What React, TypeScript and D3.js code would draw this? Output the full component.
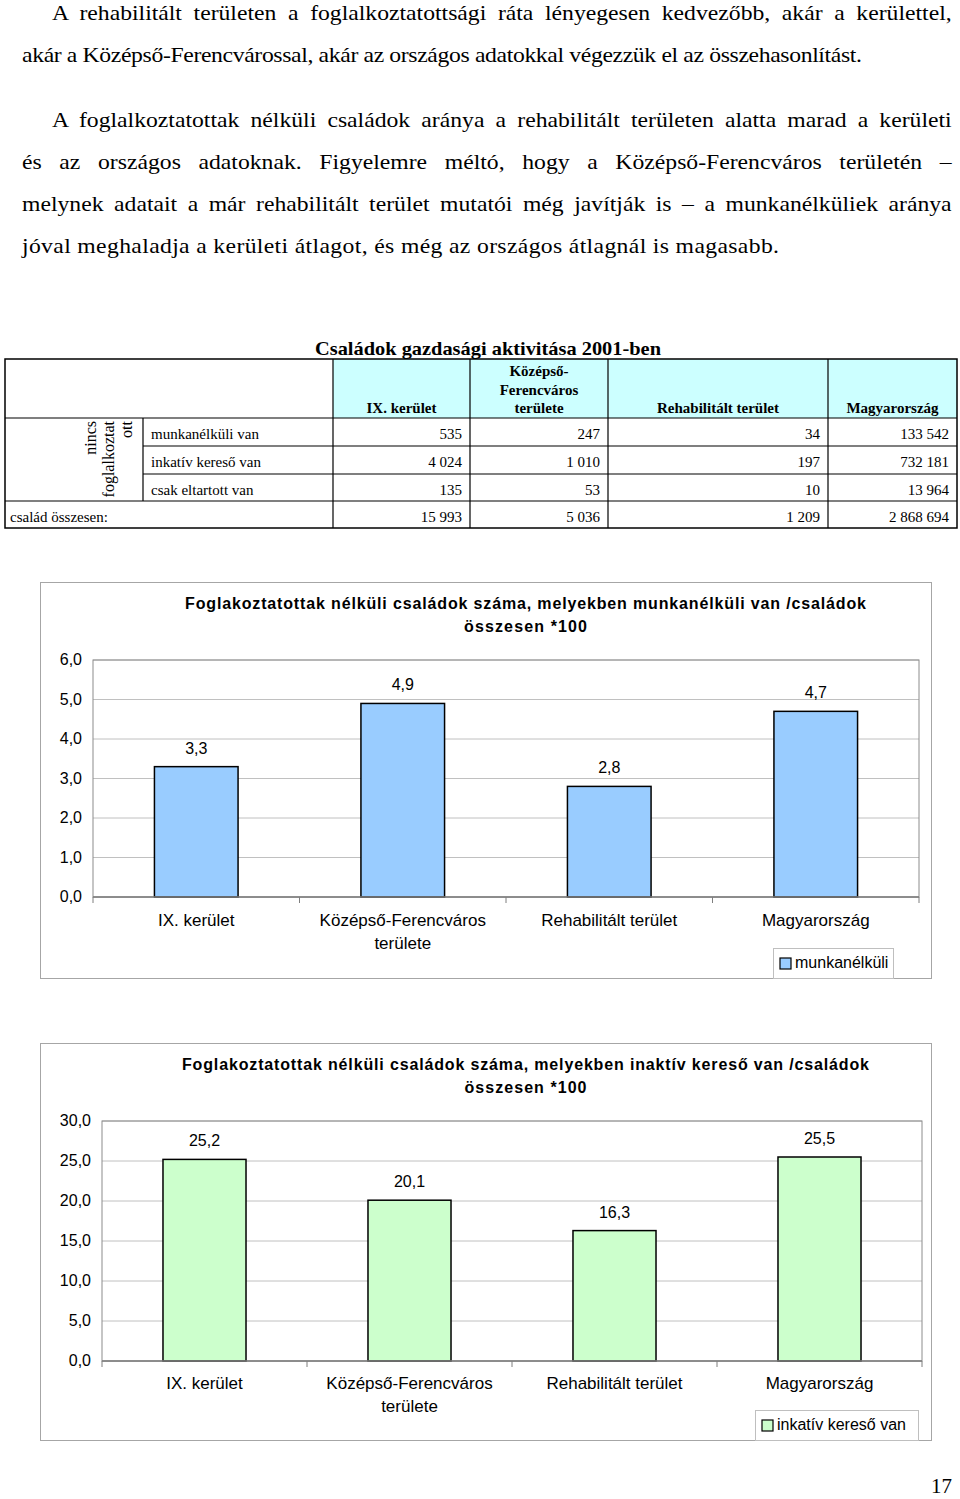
import React, { useLayoutEffect, useRef } from "react";
import * as d3 from "d3";

// paragraph text above the table
const textLines = [
  "A rehabilitált területen a foglalkoztatottsági ráta lényegesen kedvezőbb, akár a kerülettel,",
  "akár a Középső-Ferencvárossal, akár az országos adatokkal végezzük el az összehasonlítást.",
  "A foglalkoztatottak nélküli családok aránya a rehabilitált területen alatta marad a kerületi",
  "és az országos adatoknak. Figyelemre méltó, hogy a Középső-Ferencváros területén –",
  "melynek adatait a már rehabilitált terület mutatói még javítják is – a munkanélküliek aránya",
  "jóval meghaladja a kerületi átlagot, és még az országos átlagnál is magasabb.",
];

const tableTitle = "Családok gazdasági aktivitása 2001-ben";
const tableHeaders = [["IX. kerület"], ["Középső-", "Ferencváros", "területe"], ["Rehabilitált terület"], ["Magyarország"]];
const groupLabel = ["nincs", "foglalkoztat", "ott"];
const rowLabels = ["munkanélküli van", "inkatív kereső van", "csak eltartott van"];
const totalLabel = "család összesen:";

const unemployedCounts = [535, 247, 34, 133542];
const inactiveCounts = [4024, 1010, 197, 732181];
const dependentCounts = [135, 53, 10, 13964];
const totalFamilies = [15993, 5036, 1209, 2868694];

const categories = ["IX. kerület", "Középső-Ferencváros területe", "Rehabilitált terület", "Magyarország"];
const categoryLines = [["IX. kerület"], ["Középső-Ferencváros", "területe"], ["Rehabilitált terület"], ["Magyarország"]];

const unemployedPct = [3.3, 4.9, 2.8, 4.7];
const inactivePct = [25.2, 20.1, 16.3, 25.5];

const unemployedTicks = [0, 1, 2, 3, 4, 5, 6];
const inactiveTicks = [0, 5, 10, 15, 20, 25, 30];

const chart1Title = [
  "Foglakoztatottak nélküli családok száma, melyekben munkanélküli van /családok",
  "összesen *100",
];
const chart2Title = [
  "Foglakoztatottak nélküli családok száma, melyekben inaktív kereső van /családok",
  "összesen *100",
];

const hu = d3.formatLocale({ decimal: ",", thousands: " ", grouping: [3], currency: ["", ""] });
const fmtInt = hu.format(",d");
const fmt1 = hu.format(".1f");

const SERIF = "'Liberation Serif', 'Times New Roman', serif";
const SANS = "'Liberation Sans', Arial, sans-serif";

type ChartProps = {
  box: { x: number; y: number; w: number; h: number };
  plot: { left: number; right: number; top: number; bottom: number };
  values: number[];
  ticks: number[];
  fill: string;
  title: string[];
  titleY: number;
  titleWidths: number[];
  labelRight: number;
  catY: number;
  legend: { x: number; y: number; w: number; h: number; label: string };
};

const BarChart = (props: ChartProps) => {
  const { box, plot, values, ticks, fill, title, titleY, titleWidths, labelRight, catY, legend } = props;

  const x = d3.scaleBand<string>().domain(categories).range([plot.left, plot.right]);
  const y = d3
    .scaleLinear()
    .domain([0, ticks[ticks.length - 1]])
    .range([plot.bottom, plot.top]);
  const barW = x.bandwidth() * 0.405;
  const cx = (d: string) => (x(d) || 0) + x.bandwidth() / 2;
  const titleX = box.x + box.w / 2 + 40;

  return (
    <g>
      <rect x={box.x + 0.5} y={box.y + 0.5} width={box.w} height={box.h} fill="#fff" stroke="#a6a6a6" />
      {title.map((t, i) => (
        <text
          key={i}
          x={titleX}
          y={titleY + i * 23}
          textAnchor="middle"
          fontFamily={SANS}
          fontWeight="bold"
          fontSize={16}
          textLength={titleWidths[i]}
          lengthAdjust="spacing"
        >
          {t}
        </text>
      ))}

      {/* gridlines */}
      {ticks.map((t) => (
        <line key={t} x1={plot.left} x2={plot.right} y1={y(t)} y2={y(t)} stroke="#c0c0c0" strokeWidth={1} />
      ))}
      {/* plot frame */}
      <rect
        x={plot.left}
        y={plot.top}
        width={plot.right - plot.left}
        height={plot.bottom - plot.top}
        fill="none"
        stroke="#8c8c8c"
        strokeWidth={1}
      />
      {/* y tick labels */}
      {ticks.map((t) => (
        <text key={t} x={labelRight} y={y(t) + 5} textAnchor="end" fontFamily={SANS} fontSize={16}>
          {fmt1(t)}
        </text>
      ))}

      {/* bars */}
      {categories.map((c, i) => (
        <g key={c}>
          <rect
            x={cx(c) - barW / 2}
            y={y(values[i])}
            width={barW}
            height={y(0) - y(values[i])}
            fill={fill}
            stroke="#000"
            strokeWidth={1.5}
          />
          <text x={cx(c)} y={y(values[i]) - 13} textAnchor="middle" fontFamily={SANS} fontSize={16}>
            {fmt1(values[i])}
          </text>
        </g>
      ))}

      {/* x axis and category ticks */}
      <line x1={plot.left} x2={plot.right} y1={plot.bottom} y2={plot.bottom} stroke="#7f7f7f" strokeWidth={1.5} />
      {[...categories.map((c) => x(c) || 0), plot.right].map((tx, i) => (
        <line key={i} x1={tx} x2={tx} y1={plot.bottom} y2={plot.bottom + 6} stroke="#7f7f7f" />
      ))}
      {categories.map((c, i) =>
        categoryLines[i].map((l, j) => (
          <text key={c + j} x={cx(c)} y={catY + j * 23} textAnchor="middle" fontFamily={SANS} fontSize={17}>
            {l}
          </text>
        ))
      )}

      {/* legend */}
      <rect x={legend.x + 0.5} y={legend.y + 0.5} width={legend.w} height={legend.h} fill="#fff" stroke="#bfbfbf" />
      <rect x={legend.x + 7} y={legend.y + 10} width={11} height={11} fill={fill} stroke="#000" strokeWidth={1.2} />
      <text x={legend.x + 22} y={legend.y + 20} fontFamily={SANS} fontSize={16}>
        {legend.label}
      </text>
    </g>
  );
};

const DataTable = () => {
  const cols = [5, 143, 333, 470, 608, 828, 957];
  const rows = [359, 418, 446, 474, 501, 528];
  const dataRows = [unemployedCounts, inactiveCounts, dependentCounts];
  const valueCols = [0, 1, 2, 3].map((i) => ({ left: cols[i + 2], right: cols[i + 3] }));
  const stroke = "#000";

  return (
    <g>
      <text
        x={488}
        y={355}
        textAnchor="middle"
        fontFamily={SERIF}
        fontWeight="bold"
        fontSize={19}
        textLength={346}
        lengthAdjust="spacingAndGlyphs"
      >
        {tableTitle}
      </text>
      <rect x={cols[2]} y={rows[0]} width={cols[6] - cols[2]} height={rows[1] - rows[0]} fill="#ccffff" />
      {/* header labels */}
      {tableHeaders.map((lines, i) =>
        lines.map((l, j) => (
          <text
            key={i + "-" + j}
            x={(valueCols[i].left + valueCols[i].right) / 2}
            y={rows[1] - 5 - (lines.length - 1 - j) * 18.5}
            textAnchor="middle"
            fontFamily={SERIF}
            fontWeight="bold"
            fontSize={15}
          >
            {l}
          </text>
        ))
      )}
      {/* group label, rotated */}
      {groupLabel.map((l, i) => (
        <text
          key={l}
          transform={`translate(${96 + i * 18},${421}) rotate(-90)`}
          textAnchor="end"
          fontFamily={SERIF}
          fontSize={16}
        >
          {l}
        </text>
      ))}
      {rowLabels.map((l, r) => (
        <g key={l}>
          <text x={151} y={rows[r + 1] + 21} fontFamily={SERIF} fontSize={15}>
            {l}
          </text>
          {dataRows[r].map((v, i) => (
            <text key={i} x={valueCols[i].right - 8} y={rows[r + 1] + 21} textAnchor="end" fontFamily={SERIF} fontSize={15}>
              {fmtInt(v)}
            </text>
          ))}
        </g>
      ))}
      <text x={10} y={rows[4] + 21} fontFamily={SERIF} fontSize={15}>
        {totalLabel}
      </text>
      {totalFamilies.map((v, i) => (
        <text key={i} x={valueCols[i].right - 8} y={rows[4] + 21} textAnchor="end" fontFamily={SERIF} fontSize={15}>
          {fmtInt(v)}
        </text>
      ))}

      {/* grid lines */}
      <rect x={cols[0]} y={rows[0]} width={cols[6] - cols[0]} height={rows[5] - rows[0]} fill="none" stroke={stroke} strokeWidth={1.5} />
      <line x1={cols[0]} x2={cols[6]} y1={rows[1]} y2={rows[1]} stroke={stroke} strokeWidth={1.2} />
      <line x1={cols[1]} x2={cols[6]} y1={rows[2]} y2={rows[2]} stroke={stroke} strokeWidth={1.2} />
      <line x1={cols[1]} x2={cols[6]} y1={rows[3]} y2={rows[3]} stroke={stroke} strokeWidth={1.2} />
      <line x1={cols[0]} x2={cols[6]} y1={rows[4]} y2={rows[4]} stroke={stroke} strokeWidth={1.2} />
      <line x1={cols[1]} x2={cols[1]} y1={rows[1]} y2={rows[4]} stroke={stroke} strokeWidth={1.2} />
      {[2, 3, 4, 5].map((c) => (
        <line key={c} x1={cols[c]} x2={cols[c]} y1={rows[0]} y2={rows[5]} stroke={stroke} strokeWidth={1.2} />
      ))}
    </g>
  );
};

export default function App() {
  // [x start, x end, baseline, justified] for every paragraph line
  const lineLayout: [number, number, number, boolean][] = [
    [52, 952, 20, true],
    [22, 862, 62, false],
    [52, 952, 127, true],
    [22, 952, 169, true],
    [22, 952, 211, true],
    [22, 779, 253, false],
  ];
  const lineRefs = useRef<(SVGTextElement | null)[]>([]);

  // the scanned page is slightly wider than the font: stretch glyphs by the
  // factor that the unjustified lines need, then justify with word spacing
  useLayoutEffect(() => {
    const els = lineRefs.current;
    const natural = els.map((el) => (el ? el.getComputedTextLength() : 1));
    const free = lineLayout.map((l, i) => ({ l, i })).filter((d) => !d.l[3]);
    const k = d3.mean(free, (d) => (d.l[1] - d.l[0]) / natural[d.i]) || 1;
    els.forEach((el, i) => {
      if (!el) return;
      const [x0, x1, y, justified] = lineLayout[i];
      el.setAttribute("transform", `translate(${x0},${y}) scale(${k},1)`);
      const target = (x1 - x0) / k;
      if (justified) {
        const gaps = (textLines[i].match(/ /g) || []).length;
        el.setAttribute("word-spacing", String((target - natural[i]) / Math.max(gaps, 1)));
      } else {
        el.setAttribute("textLength", String(target));
        el.setAttribute("lengthAdjust", "spacing");
      }
    });
  }, []);

  return (
    <div style={{ position: "absolute", left: 0, top: 0 }}>
      <svg width={960} height={1499} style={{ display: "block", background: "#fff" }}>
        {textLines.map((t, i) => (
          <text
            key={i}
            ref={(el) => {
              lineRefs.current[i] = el;
            }}
            x={0}
            y={0}
            transform={`translate(${lineLayout[i][0]},${lineLayout[i][2]})`}
            fontFamily={SERIF}
            fontSize={22}
          >
            {t}
          </text>
        ))}

        <DataTable />

        <BarChart
          box={{ x: 40, y: 582, w: 891, h: 396 }}
          plot={{ left: 93, right: 919, top: 660, bottom: 897 }}
          values={unemployedPct}
          ticks={unemployedTicks}
          fill="#99ccff"
          title={chart1Title}
          titleY={609}
          titleWidths={[681, 123]}
          labelRight={82}
          catY={926}
          legend={{ x: 773, y: 948, w: 120, h: 30, label: "munkanélküli" }}
        />

        <BarChart
          box={{ x: 40, y: 1043, w: 891, h: 397 }}
          plot={{ left: 102, right: 922, top: 1121, bottom: 1361 }}
          values={inactivePct}
          ticks={inactiveTicks}
          fill="#ccffcc"
          title={chart2Title}
          titleY={1070}
          titleWidths={[687, 122]}
          labelRight={91}
          catY={1389}
          legend={{ x: 755, y: 1410, w: 163, h: 30, label: "inkatív kereső van" }}
        />

        <text x={952} y={1493} textAnchor="end" fontFamily={SERIF} fontSize={21}>
          17
        </text>
      </svg>
    </div>
  );
}
